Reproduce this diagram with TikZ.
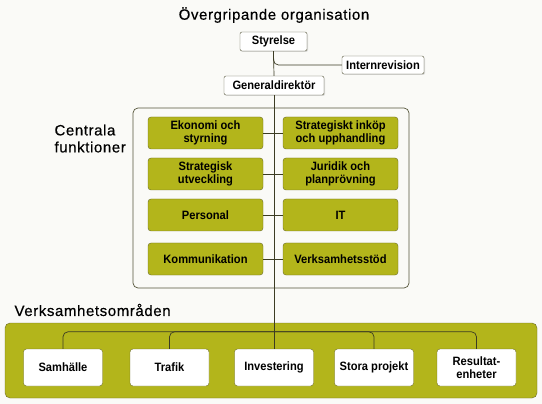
\documentclass[tikz,border=0pt]{standalone}
\usepackage{fontspec}
\setmainfont{Liberation Sans}
\newfontfamily\boxfont[FakeStretch=0.92]{Liberation Sans}
\newfontfamily\headfont[LetterSpace=4, FakeBold=0.4]{Liberation Sans}
\usepackage{tikz}
\usetikzlibrary{positioning,shadows}
\definecolor{orgbg}{HTML}{FAFAF7}
\definecolor{orgolive}{HTML}{B3B51B}
\definecolor{orgedge}{HTML}{6B6B26}
\definecolor{orgline}{HTML}{3C3C24}
\definecolor{orgframe}{HTML}{55553A}

\begin{document}
\begin{tikzpicture}[
  x=1pt, y=-1pt,
  font=\boxfont\bfseries\fontsize{12.1}{13}\selectfont,
  topbox/.style={draw=orgframe, fill=white, rounded corners=2pt, align=center,
    inner sep=1pt, drop shadow={shadow xshift=1pt, shadow yshift=-1pt, opacity=0.25}},
  funcbox/.style={draw=orgedge, fill=orgolive, rounded corners=3pt, align=center,
    minimum width=115pt, minimum height=32pt, inner sep=1pt},
  areabox/.style={draw=orgedge, fill=white, rounded corners=3pt, align=center,
    minimum width=79pt, minimum height=37pt, inner sep=1pt},
  conn/.style={draw=orgline, line width=0.7pt},
  heading/.style={font=\headfont\fontsize{15}{17}\selectfont},
  ]
  \useasboundingbox[fill=orgbg] (0,0) rectangle (542,404);

  % top level
  \node[heading] (title) at (274,15) {Övergripande organisation};
  \node[topbox, minimum width=67pt, minimum height=19pt] (styrelse) at (273.5,41.5) {Styrelse};
  \node[topbox, minimum width=82pt, minimum height=18pt] (intern) at (383,65) {Internrevision};
  \node[topbox, minimum width=100pt, minimum height=19pt] (gd) at (274,85.5) {Generaldirektör};

  % central functions
  \node[draw=orgframe, line width=0.7pt, rounded corners=5pt, minimum width=276pt,
    minimum height=180pt, inner sep=0pt] (central) at (271,198) {};
  \node[heading, align=left, anchor=north west] (centlbl) at (51,121) {Centrala\\funktioner};

  \node[funcbox] (ekonomi) at (205.5,133) {Ekonomi och\\styrning};
  \node[funcbox] (inkop) at (340.5,133) {Strategiskt inköp\\och upphandling};
  \node[funcbox] (utv) at (205.5,174) {Strategisk\\utveckling};
  \node[funcbox] (juridik) at (340.5,174) {Juridik och\\planprövning};
  \node[funcbox] (personal) at (205.5,215) {Personal};
  \node[funcbox] (it) at (340.5,215) {IT};
  \node[funcbox] (komm) at (205.5,259) {Kommunikation};
  \node[funcbox] (vstod) at (340.5,259) {Verksamhetsstöd};

  % business areas
  \node[heading, anchor=west] (omrlbl) at (11,310) {Verksamhetsområden};
  \node[draw=orgedge, fill=orgolive, rounded corners=5pt, minimum width=532pt,
    minimum height=75pt, inner sep=0pt] (band) at (271,360.5) {};

  \node[areabox] (samhalle) at (63,367.5) {Samhälle};
  \node[areabox] (trafik) at (169.5,367.5) {Trafik};
  \node[areabox] (invest) at (274,367.5) {Investering};
  \node[areabox] (stora) at (374,367.5) {Stora projekt};
  \node[areabox] (result) at (476.5,367.5) {Resultat-\\enheter};

  % connectors
  \draw[conn] (styrelse.south) -- (gd.north);
  \draw[conn, rounded corners=5pt] (styrelse.south) |- (intern.west);
  \draw[conn] (gd.south) -- (invest.north);
  \foreach \l/\r in {ekonomi/inkop, utv/juridik, personal/it, komm/vstod}
    \draw[conn] (\l.east) -- (\r.west);
  \draw[conn, rounded corners=5pt] (samhalle.north) -- ++(0,-17) -| (result.north);
  \draw[conn, rounded corners=5pt] (trafik.north) -- ++(0,-17) -| (stora.north);
\end{tikzpicture}
\end{document}
